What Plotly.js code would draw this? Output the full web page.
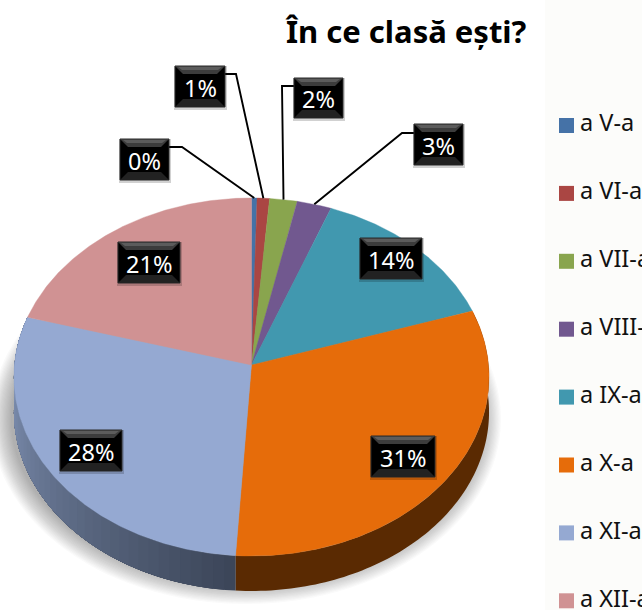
<!DOCTYPE html>
<html><head><meta charset="utf-8">
<script src="https://cdn.plot.ly/plotly-3.0.1.min.js"></script>
<style>html,body{margin:0;padding:0;background:#fff;overflow:hidden}#c{width:642px;height:610px}</style>
</head><body><div id="c"></div>
<script>
const categories = ["a V-a","a VI-a","a VII-a","a VIII-a","a IX-a","a X-a","a XI-a","a XII-a"];
const values = [0.4,0.9,2.0,2.5,14.2,31.0,28.4,20.6];
const colors = ["#4572A7","#AA4643","#89A54E","#71588F","#4198AF","#E66C0A","#95A9D2","#D09293"];
const labelBoxes = [[120,139,49,41],[175,66,50,41],[294,78,49,40],[414,124,49,41],[360,238,62,41],[371,436,64,41],[60,430,62,41],[118,242,62,41]];
const leaderElbows = [[182,147,169],[236,74,225],[282,86,294],[402,133,414]];

const total = values.reduce((a,b)=>a+b,0);
const APEX_X=251.5, APEX_Y=365, R=237, A=178.2, C=0.067, DEPTH=35;
const FONT="'Noto Sans', 'Open Sans', sans-serif";
function rim(t){const u=Math.sin(t),v=Math.cos(t),d=1+C*v;return [APEX_X+R*u/d, APEX_Y-A*v/d];}
const TAU=2*Math.PI;
const starts=[];let acc=0;values.forEach(v=>{starts.push(acc/total*TAU);acc+=v;});
const ends=values.map((v,i)=>starts[i]+v/total*TAU);
function arc(a,b,step){const n=Math.max(2,Math.ceil((b-a)/step));const p=[];for(let i=0;i<=n;i++)p.push(rim(a+(b-a)*i/n));return p;}
const traces=[];
// soft ground shadow: stacked translucent ellipses that emerge from behind the pie
const LAYERS=18;
for(let i=0;i<LAYERS;i++){
  const f=i/(LAYERS-1), rx=255-20*f, ry=185-20*f, cy=419;
  const xs=[],ys=[];
  for(let k=0;k<=120;k++){const a=k/120*TAU;xs.push(246+rx*Math.cos(a));ys.push(cy+ry*Math.sin(a));}
  traces.push({type:"scatter",mode:"none",x:xs,y:ys,fill:"toself",fillcolor:"rgba(80,80,75,0.026)",hoverinfo:"skip",showlegend:false});
}
// side wall
function mix(c1,c2,f){return "rgb("+c1.map((c,i)=>Math.round(c+(c2[i]-c)*f)).join(",")+")";}
function wall(a,b,col){const p=arc(a,b,0.02);const xs=p.map(q=>q[0]).concat(p.slice().reverse().map(q=>q[0]));
  const ys=p.map(q=>q[1]).concat(p.slice().reverse().map(q=>q[1]+DEPTH));
  traces.push({type:"scatter",mode:"none",x:xs,y:ys,fill:"toself",fillcolor:col,hoverinfo:"skip",showlegend:false});}
wall(starts[5],ends[5],"#5A2A02");
const STR=40;
for(let i=0;i<STR;i++){const a=starts[6]+(ends[6]-starts[6])*i/STR;
  wall(a,ends[6],mix([60,70,89],[128,146,180],Math.min(1,i/(STR*0.85))));}
// top face slices
values.forEach((v,i)=>{const p=arc(starts[i],ends[i],0.01);
  const xs=[APEX_X].concat(p.map(q=>q[0]),[APEX_X]),ys=[APEX_Y].concat(p.map(q=>q[1]),[APEX_Y]);
  traces.push({type:"scatter",mode:"lines",name:categories[i],x:xs,y:ys,fill:"toself",fillcolor:colors[i],line:{color:colors[i],width:0.4},hoverinfo:"name",showlegend:false});});
// leader lines
leaderElbows.forEach((e,i)=>{const m=rim((starts[i]+ends[i])/2);
  traces.push({type:"scatter",mode:"lines",x:[e[2],e[0],m[0]],y:[e[1],e[1],m[1]],line:{color:"#000",width:1.9},hoverinfo:"skip",showlegend:false});});
// legend
traces.push({type:"scatter",mode:"markers",x:categories.map(()=>566.5),y:categories.map((c,i)=>125.5+67.9*i),
  marker:{symbol:"square",size:15,color:colors},cliponaxis:false,hoverinfo:"skip",showlegend:false});
traces.push({type:"scatter",mode:"text",x:categories.map(()=>580),y:categories.map((c,i)=>125.5+67.9*i),
  text:categories,textposition:"middle right",
  textfont:{family:FONT,size:23.5,color:"#111"},cliponaxis:false,hoverinfo:"skip",showlegend:false});

const shapes=[], annotations=[];
shapes.push({type:"rect",layer:"below",x0:545,x1:642,y0:0,y1:610,fillcolor:"#FCFCFA",line:{width:0}});
labelBoxes.forEach((b,i)=>{const [x,y,w,h]=b,r=x+w,t=y+h,e=8;
  shapes.push({type:"rect",x0:x-1,x1:r+2,y0:y,y1:t+3,fillcolor:"rgba(0,0,0,0.18)",line:{width:0}});
  shapes.push({type:"rect",x0:x,x1:r,y0:y,y1:t,fillcolor:"#000",line:{color:"#2a2a2a",width:1}});
  shapes.push({type:"path",path:`M${x},${y}L${r},${y}L${r-e},${y+e}L${x+e},${y+e}Z`,fillcolor:"#3c3c3c",line:{width:0}});
  shapes.push({type:"path",path:`M${x+3},${y+1}L${r-3},${y+1}L${r-e+1},${y+4}L${x+e-1},${y+4}Z`,fillcolor:"#5c5c5c",line:{width:0}});
  shapes.push({type:"path",path:`M${x},${t}L${r},${t}L${r-e},${t-e}L${x+e},${t-e}Z`,fillcolor:"#222",line:{width:0}});
  annotations.push({x:x+w/2,y:y+h/2+1,xref:"x",yref:"y",text:Math.round(values[i]/total*100)+"%",showarrow:false,
    font:{family:FONT,size:23.5,color:"#fff"}});
});
annotations.push({x:405.5,y:31,xref:"x",yref:"y",text:"<b>În ce clasă ești?</b>",showarrow:false,
  font:{family:FONT,size:31,color:"#000"}});
Plotly.newPlot("c",traces,{
  width:642,height:610,margin:{l:0,r:0,t:0,b:0},paper_bgcolor:"#fff",plot_bgcolor:"rgba(0,0,0,0)",showlegend:false,
  xaxis:{range:[0,642],visible:false,fixedrange:true},
  yaxis:{range:[610,0],visible:false,fixedrange:true},
  shapes,annotations
},{displayModeBar:false,staticPlot:true});
</script></body></html>
